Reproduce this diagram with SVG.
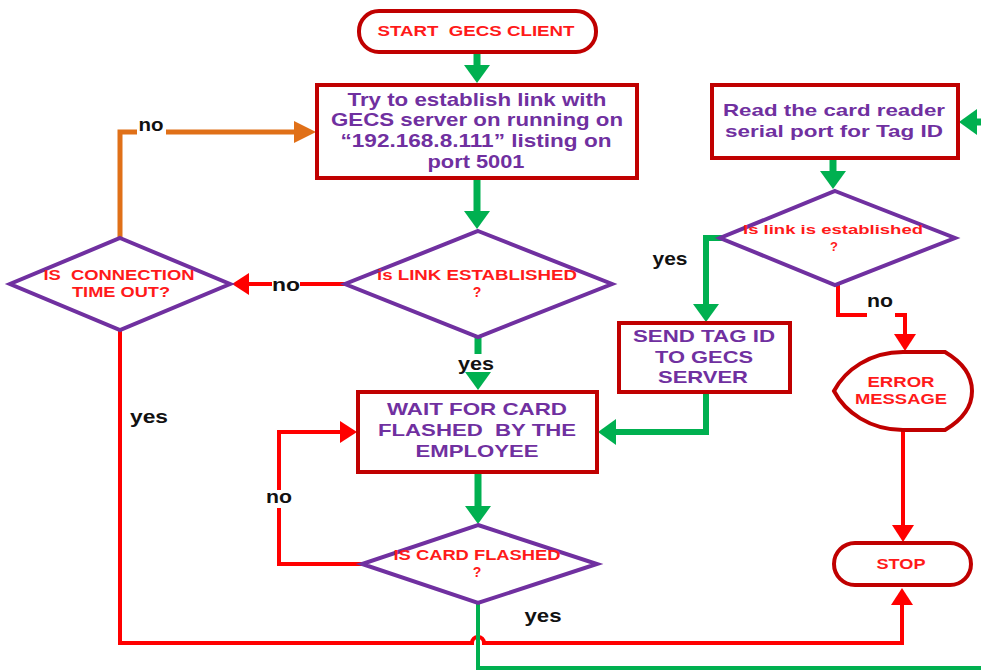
<svg xmlns="http://www.w3.org/2000/svg" width="981" height="671" viewBox="0 0 981 671">
<style>
text{font-family:"Liberation Sans",Arial,sans-serif;font-weight:bold;text-anchor:middle;white-space:pre}
.box{fill:#fff;stroke:#C00000;stroke-width:4}
.dia{fill:#fff;stroke:#7030A0;stroke-width:4;stroke-linejoin:miter}
.pt{fill:#7030A0;font-size:19px}
.rt{fill:#FF1A1A;font-size:14px}
.lb{fill:#111;font-size:19px}
.g{fill:none;stroke:#00B050;stroke-width:7}
.gs{fill:none;stroke:#00B050;stroke-width:6}
.r{fill:none;stroke:#FF0000;stroke-width:4}
.o{fill:none;stroke:#E07018;stroke-width:5}
</style>
<defs>
<marker id="ga" viewBox="0 0 18 26" refX="1" refY="13" markerWidth="18" markerHeight="26" markerUnits="userSpaceOnUse" orient="auto"><path d="M0,0 L18,13 L0,26 Z" fill="#00B050"/></marker>
<marker id="ra" viewBox="0 0 17 22" refX="1" refY="11" markerWidth="17" markerHeight="22" markerUnits="userSpaceOnUse" orient="auto"><path d="M0,0 L17,11 L0,22 Z" fill="#FF0000"/></marker>
<marker id="oa" viewBox="0 0 22 22" refX="1" refY="11" markerWidth="22" markerHeight="22" markerUnits="userSpaceOnUse" orient="auto"><path d="M0,0 L22,11 L0,22 Z" fill="#E07018"/></marker>
</defs>

<g id="connectors">
<path class="g" d="M477,52 V66" marker-end="url(#ga)"/>
<path class="g" d="M477,178 V212" marker-end="url(#ga)"/>
<path class="g" d="M478,337 V354"/>
<path class="g" d="M478,372.5 V373" marker-end="url(#ga)"/>
<path class="g" d="M478,472 V507" marker-end="url(#ga)"/>
<path class="g" d="M833,158 V172" marker-end="url(#ga)"/>
<path class="g" d="M981,122 H976" marker-end="url(#ga)"/>
<path class="gs" d="M722,238 H706 V305" marker-end="url(#ga)"/>
<path class="gs" d="M706,392 V432 H615" marker-end="url(#ga)"/>
<path class="r" d="M120,330 V643 H472 A6,6 0 0 1 484,643 H902 V604" marker-end="url(#ra)"/>
<path class="g" style="stroke-width:4" d="M478,603 V668 H981"/>
<path class="r" d="M362,564 H279 V508"/>
<path class="r" d="M279,490 V432 H341" marker-end="url(#ra)"/>
<path class="r" d="M345,284 H300"/>
<path class="r" d="M272,284 H248" marker-end="url(#ra)"/>
<path class="o" d="M120,238 V132 H137"/>
<path class="o" d="M166,132 H295" marker-end="url(#oa)"/>
<path class="r" d="M838,285 V315 H867"/>
<path class="r" d="M895,315 H905 V335" marker-end="url(#ra)"/>
<path class="r" d="M903,430 V526" marker-end="url(#ra)"/>
</g>

<g id="labels">
<text class="lb" x="151" y="131" textLength="25" lengthAdjust="spacingAndGlyphs">no</text>
<text class="lb" x="286" y="291" textLength="28" lengthAdjust="spacingAndGlyphs">no</text>
<text class="lb" x="149" y="423" textLength="38" lengthAdjust="spacingAndGlyphs">yes</text>
<text class="lb" x="476" y="370" textLength="36" lengthAdjust="spacingAndGlyphs">yes</text>
<text class="lb" x="279" y="503" textLength="26" lengthAdjust="spacingAndGlyphs">no</text>
<text class="lb" x="543" y="622" textLength="37" lengthAdjust="spacingAndGlyphs">yes</text>
<text class="lb" x="670" y="265" textLength="35" lengthAdjust="spacingAndGlyphs">yes</text>
<text class="lb" x="880" y="307" textLength="26" lengthAdjust="spacingAndGlyphs">no</text>
</g>

<g id="start">
<rect class="box" x="359" y="11" width="237" height="41" rx="20"/>
<text class="rt" style="font-size:15px" x="476" y="36" textLength="197" lengthAdjust="spacingAndGlyphs">START  GECS CLIENT</text>
</g>

<g id="try-link">
<rect class="box" x="317" y="85" width="320" height="93"/>
<text class="pt" x="477" y="106" textLength="259" lengthAdjust="spacingAndGlyphs">Try to establish link with</text>
<text class="pt" x="477" y="126" textLength="292" lengthAdjust="spacingAndGlyphs">GECS server on running on</text>
<text class="pt" x="476" y="147" textLength="271" lengthAdjust="spacingAndGlyphs">“192.168.8.111” listing on</text>
<text class="pt" x="476" y="168" textLength="97" lengthAdjust="spacingAndGlyphs">port 5001</text>
</g>

<g id="link-established">
<polygon class="dia" points="478,231 612,284 478,337 345,284"/>
<text class="rt" x="477" y="280" textLength="200" lengthAdjust="spacingAndGlyphs">is LINK ESTABLISHED</text>
<text class="rt" x="477" y="297">?</text>
</g>

<g id="connection-timeout">
<polygon class="dia" points="120,238 230,284 120,330 10,284"/>
<text class="rt" x="119" y="280" textLength="151" lengthAdjust="spacingAndGlyphs">IS  CONNECTION</text>
<text class="rt" x="121" y="297" textLength="98" lengthAdjust="spacingAndGlyphs">TIME OUT?</text>
</g>

<g id="wait-card">
<rect class="box" x="358" y="392" width="239" height="80"/>
<text class="pt" style="font-size:17px" x="477" y="415" textLength="180" lengthAdjust="spacingAndGlyphs">WAIT FOR CARD</text>
<text class="pt" style="font-size:17px" x="477" y="436" textLength="198" lengthAdjust="spacingAndGlyphs">FLASHED  BY THE</text>
<text class="pt" style="font-size:17px" x="477" y="457" textLength="123" lengthAdjust="spacingAndGlyphs">EMPLOYEE</text>
</g>

<g id="card-flashed">
<polygon class="dia" points="478,525 597,564 478,603 362,564"/>
<text class="rt" x="477" y="560" textLength="167" lengthAdjust="spacingAndGlyphs">IS CARD FLASHED</text>
<text class="rt" x="477" y="577">?</text>
</g>

<g id="read-card">
<rect class="box" x="712" y="85" width="246" height="73"/>
<text class="pt" style="font-size:17px" x="834" y="116" textLength="222" lengthAdjust="spacingAndGlyphs">Read the card reader</text>
<text class="pt" style="font-size:17px" x="834" y="137" textLength="218" lengthAdjust="spacingAndGlyphs">serial port for Tag ID</text>
</g>

<g id="link-is-established">
<polygon class="dia" points="835,191 955,238 835,285 720,238"/>
<text class="rt" style="font-size:13px" x="833" y="234" textLength="180" lengthAdjust="spacingAndGlyphs">Is link is established</text>
<text class="rt" style="font-size:13px" x="834" y="251">?</text>
</g>

<g id="send-tag">
<rect class="box" x="619" y="323" width="171" height="69"/>
<text class="pt" style="font-size:17px" x="704" y="342" textLength="142" lengthAdjust="spacingAndGlyphs">SEND TAG ID</text>
<text class="pt" style="font-size:17px" x="704" y="363" textLength="98" lengthAdjust="spacingAndGlyphs">TO GECS</text>
<text class="pt" style="font-size:17px" x="703" y="383" textLength="90" lengthAdjust="spacingAndGlyphs">SERVER</text>
</g>

<g id="error-message">
<path class="box" d="M945,352 C962,362 972,375 972,391 C972,407 962,420 945,430 H903 C870,430 845,412 834,391 C845,370 870,352 903,352 Z"/>
<text class="rt" x="901" y="387" textLength="67" lengthAdjust="spacingAndGlyphs">ERROR</text>
<text class="rt" x="901" y="404" textLength="92" lengthAdjust="spacingAndGlyphs">MESSAGE</text>
</g>

<g id="stop">
<rect class="box" x="834" y="543" width="137" height="42" rx="21"/>
<text class="rt" x="901" y="569" textLength="49" lengthAdjust="spacingAndGlyphs">STOP</text>
</g>
</svg>
